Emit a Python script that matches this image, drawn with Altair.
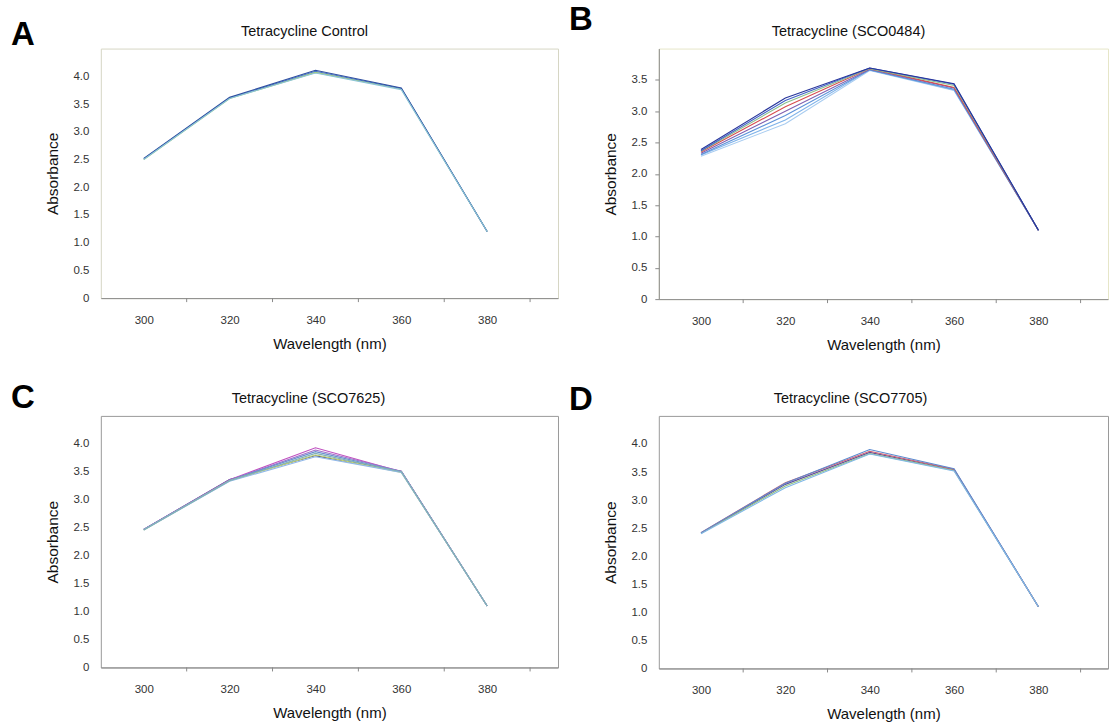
import altair as alt
import pandas as pd

FONT = "Liberation Sans"

# Wavelengths sampled (nm)
wavelengths = [300, 320, 340, 360, 380]

# Absorbance spectra, one list per trace (later traces are drawn on top)
panel_a = {
    "A3": [2.50, 3.60, 4.07, 3.77, 1.20],
    "A2": [2.51, 3.61, 4.09, 3.78, 1.20],
    "A1": [2.52, 3.62, 4.11, 3.79, 1.20],
    "A4": [2.50, 3.60, 4.06, 3.76, 1.20],
}
colors_a = ["#a8d060", "#4a78c8", "#2f4fa0", "#8cc4d8"]

panel_b = {
    "B8": [2.28, 2.80, 3.65, 3.33, 1.10],
    "B7": [2.30, 2.86, 3.66, 3.34, 1.10],
    "B6": [2.31, 2.93, 3.66, 3.35, 1.10],
    "B5": [2.33, 3.00, 3.67, 3.37, 1.10],
    "B4": [2.35, 3.07, 3.68, 3.38, 1.10],
    "B3": [2.36, 3.13, 3.68, 3.41, 1.10],
    "B2": [2.37, 3.17, 3.69, 3.43, 1.10],
    "B1": [2.39, 3.21, 3.69, 3.44, 1.10],
}
colors_b = ["#a8ccf0", "#80b4ea", "#5a90d8", "#8060b0",
            "#d84c4c", "#8cc08c", "#4060c8", "#27349a"]

panel_c = {
    "C7": [2.47, 3.36, 3.79, 3.51, 1.10],
    "C1": [2.47, 3.36, 3.93, 3.50, 1.10],
    "C2": [2.47, 3.35, 3.89, 3.51, 1.10],
    "C3": [2.47, 3.35, 3.86, 3.50, 1.10],
    "C5": [2.46, 3.34, 3.80, 3.49, 1.10],
    "C6": [2.46, 3.33, 3.77, 3.49, 1.10],
    "C4": [2.46, 3.34, 3.83, 3.50, 1.10],
}
colors_c = ["#303880", "#c050c0", "#a070c8", "#6a8fd0",
            "#c8d870", "#90b8e8", "#7fb0b8"]

panel_d = {
    "D3": [2.41, 3.28, 3.85, 3.54, 1.10],
    "D4": [2.41, 3.25, 3.83, 3.53, 1.10],
    "D2": [2.42, 3.31, 3.87, 3.55, 1.10],
    "D1": [2.42, 3.30, 3.90, 3.56, 1.10],
    "D5": [2.40, 3.22, 3.82, 3.52, 1.10],
}
colors_d = ["#6050a0", "#90c080", "#d06070", "#5a8ad0", "#80b8e8"]

label_ticks = [300, 320, 340, 360, 380]
minor_ticks = [310, 330, 350, 370, 390]
y_ticks_full = [0, 0.5, 1.0, 1.5, 2.0, 2.5, 3.0, 3.5, 4.0]
y_ticks_b = [0, 0.5, 1.0, 1.5, 2.0, 2.5, 3.0, 3.5]


def long_form(series):
    rows = []
    for name, vals in series.items():
        for wl, v in zip(wavelengths, vals):
            rows.append({"series": name, "wl": wl, "abs": v})
    return pd.DataFrame(rows)


def panel(series, colors, title, letter, width, height, ymax, yvals,
          title_x, letter_dy, frame, ydomain):
    xscale = alt.Scale(domain=[290, 396.5], nice=False, zero=False)
    yscale = alt.Scale(domain=[0, ymax], nice=False)
    df = long_form(series)

    lines = alt.Chart(df).mark_line(strokeWidth=1.1).encode(
        x=alt.X("wl:Q", scale=xscale,
                axis=alt.Axis(values=label_ticks, ticks=False, tickSize=0,
                              grid=False, domainColor="#8a8a8a",
                              labelPadding=16, labelFontSize=11.5,
                              labelColor="#333", titlePadding=11,
                              titleFontSize=15, titleFontWeight="normal",
                              titleColor="#111", format="d"),
                title="Wavelength (nm)"),
        y=alt.Y("abs:Q", scale=yscale,
                axis=alt.Axis(values=yvals, grid=False, domain=ydomain,
                              domainColor="#8a8a8a", ticks=ydomain,
                              tickSize=4, tickColor="#8a8a8a",
                              labelPadding=8 if ydomain else 12,
                              labelFontSize=11.5, labelColor="#333",
                              titlePadding=12, titleFontSize=15.5,
                              titleFontWeight="normal", titleColor="#111",
                              labelExpr="datum.value == 0 ? '0' : format(datum.value, '.1f')"),
                title="Absorbance"),
        color=alt.Color("series:N",
                        scale=alt.Scale(domain=list(series.keys()), range=colors),
                        legend=None),
    )

    ticks = alt.Chart(pd.DataFrame({"t": minor_ticks})).mark_rule(
        color="#8a8a8a", strokeWidth=1
    ).encode(
        x=alt.X("t:Q", scale=xscale),
        y=alt.value(height),
        y2=alt.value(height + 4),
    )

    tag = alt.Chart(pd.DataFrame({"label": [letter]})).mark_text(
        font=FONT, fontSize=33, fontWeight="bold", align="left",
        baseline="alphabetic", color="#000"
    ).encode(
        x=alt.value(-90),
        y=alt.value(letter_dy),
        text="label:N",
    )

    heading = alt.Chart(pd.DataFrame({"label": [title]})).mark_text(
        font=FONT, fontSize=14.5, align="center", baseline="middle",
        color="#111"
    ).encode(
        x=alt.value(title_x),
        y=alt.value(-17),
        text="label:N",
    )

    return alt.layer(lines, ticks, tag, heading).properties(
        width=width,
        height=height,
        view=alt.ViewBackground(stroke=frame, strokeWidth=1),
    )


chart_a = panel(panel_a, colors_a, "Tetracycline Control", "A", 458, 250, 4.5,
                y_ticks_full, 204, -4, "#d6d6c4", False)
chart_b = panel(panel_b, colors_b, "Tetracycline (SCO0484)", "B", 450, 251, 4.0,
                y_ticks_b, 190, -19, "#e6e6c8", True)
chart_c = panel(panel_c, colors_c, "Tetracycline (SCO7625)", "C", 458, 252, 4.5,
                y_ticks_full, 208, -8, "#9a9a9a", False)
chart_d = panel(panel_d, colors_d, "Tetracycline (SCO7705)", "D", 450, 253, 4.5,
                y_ticks_full, 192, -6, "#9a9a9a", False)

chart = alt.concat(
    chart_a, chart_b, chart_c, chart_d,
    columns=2, spacing={"row": 117, "column": 101}, bounds="flush",
).resolve_scale(
    x="independent", y="independent", color="independent"
).properties(
    padding={"left": 10, "top": 2, "right": 0, "bottom": 0},
    background="white",
).configure(
    font=FONT,
).configure_view(
    strokeWidth=1,
)

chart.save("out.html", embed_options={"renderer": "svg", "actions": False})
